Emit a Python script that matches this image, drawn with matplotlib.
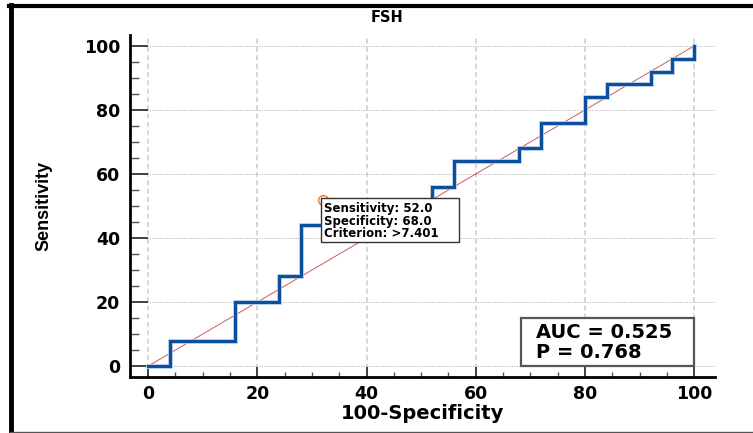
import numpy as np
import matplotlib
matplotlib.use('Agg')
import matplotlib.pyplot as plt
from matplotlib.patches import Rectangle
from matplotlib.lines import Line2D
from matplotlib.ticker import MultipleLocator

# ROC points (100-Specificity, Sensitivity)
fpr = [0, 4, 16, 24, 28, 32, 52, 56, 68, 72, 80, 84, 92, 96, 100]
tpr = [0, 8, 20, 28, 44, 52, 56, 64, 68, 76, 84, 88, 92, 96, 100]
cut_x, cut_y = 32, 52
cut_lines = ['Sensitivity: 52.0', 'Specificity: 68.0', 'Criterion: >7.401']
auc_lines = ['AUC = 0.525', 'P = 0.768']
title = 'FSH'

plt.rcParams['font.family'] = 'DejaVu Sans'
fig = plt.figure(figsize=(7.53, 4.33), dpi=100)
ax = fig.add_axes([130/753, 1-376.7/433, 585/753, 341.7/433])

ax.set_xlim(-3.3, 103.8)
ax.set_ylim(-3.3, 103.4)

# grid
for v in range(0, 101, 20):
    ax.axvline(v, color='#cfcfcf', lw=1.2, ls=(0, (3, 2)), zorder=0)
    ax.axhline(v, color='#a8a8a8', lw=0.7, ls=(0, (1, 1.5)), zorder=0)

# diagonal
ax.plot([0, 100], [0, 100], color='#cc5a5a', lw=0.7, zorder=2)
# roc
ax.plot(fpr, tpr, drawstyle='steps-post', color='#b3cbe6', lw=3.4, zorder=3,
        solid_joinstyle='miter')
ax.plot(fpr, tpr, drawstyle='steps-post', color='#0b4f9e', lw=2.2, zorder=3,
        solid_joinstyle='miter')
ax.plot([cut_x], [cut_y], 'o', mfc='none', mec='#f08a3c', ms=7, mew=1.2, zorder=4)

# criterion box
ax.add_patch(Rectangle((31.7, 38.8), 25.3, 13.7, fc='white', ec='#333333', lw=1.0, zorder=5))
for i, s in enumerate(cut_lines):
    ax.text(32.3, 49.1 - i*3.9, s, fontsize=8.5, fontweight='bold', va='center',
            ha='left', zorder=6)

# AUC box
ax.add_patch(Rectangle((68.3, 0), 31.7, 15, fc='white', ec='#555555', lw=1.6, zorder=5))
for i, s in enumerate(auc_lines):
    ax.text(71.0, 10.6 - i*6.2, s, fontsize=14, fontweight='bold', va='center',
            ha='left', zorder=6)

for sp in ['top', 'right']:
    ax.spines[sp].set_visible(False)
ax.spines['left'].set_linewidth(2)
ax.spines['bottom'].set_linewidth(2)

ax.xaxis.set_major_locator(MultipleLocator(20))
ax.xaxis.set_minor_locator(MultipleLocator(5))
ax.yaxis.set_major_locator(MultipleLocator(20))
ax.yaxis.set_minor_locator(MultipleLocator(5))
ax.tick_params(axis='y', which='major', direction='in', length=13, width=1.3,
               color='#333333', pad=7, labelsize=12.5)
ax.tick_params(axis='y', which='minor', direction='in', length=6.5, width=1,
               color='#555555')
ax.tick_params(axis='x', which='major', direction='in', length=7, width=1.3,
               color='#333333', pad=6, labelsize=12.5)
ax.tick_params(axis='x', which='minor', direction='in', length=3.5, width=1,
               color='#555555')
for lab in ax.get_xticklabels() + ax.get_yticklabels():
    lab.set_fontweight('bold')

ax.set_xlabel('100-Specificity', fontsize=14, fontweight='bold', labelpad=1)
ax.set_ylabel('Sensitivity', fontsize=13, fontweight='bold',
              family=['Liberation Sans Narrow', 'Liberation Sans'], labelpad=23)

fig.text(387/753, 1-18/433, title, fontsize=10.5, fontweight='bold', ha='center', va='center')

# outer frame
fig.add_artist(Line2D([9/753, 1], [1-5.5/433]*2, color='black', lw=3, transform=fig.transFigure))
fig.add_artist(Line2D([10.8/753]*2, [0, 1-5/433], color='black', lw=3.5, transform=fig.transFigure))
fig.add_artist(Line2D([10/753, 1], [1-431.5/433]*2, color='#555555', lw=1, transform=fig.transFigure))

fig.savefig('out.png', dpi=100)
